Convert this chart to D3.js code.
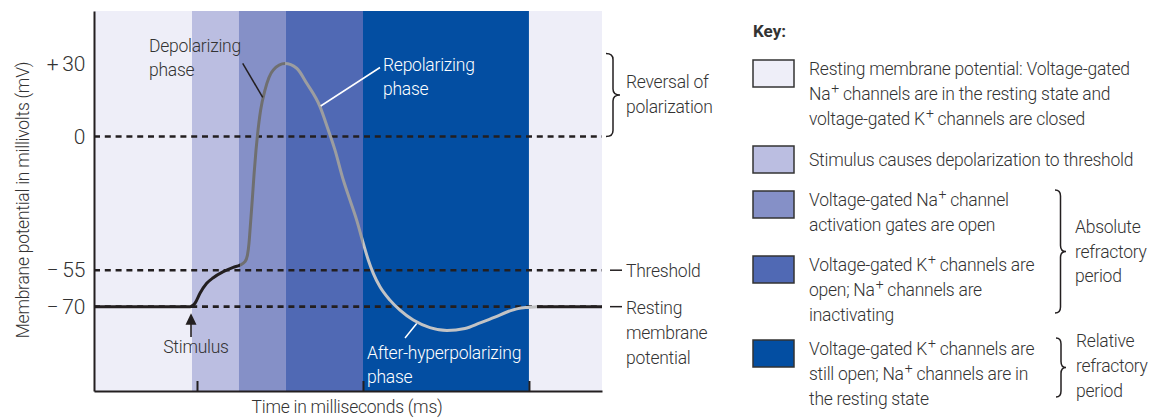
<!DOCTYPE html>
<html><head><meta charset="utf-8">
<script src="https://cdn.jsdelivr.net/npm/d3@7"></script>
<style>
html,body{margin:0;padding:0;background:#fff;}
svg{display:block;}
text{font-family:Roboto,"Liberation Sans",sans-serif;fill:#333;font-size:17.5px;letter-spacing:-0.25px;font-weight:300;}
</style></head><body>
<svg id="chart" width="1155" height="419"></svg>
<script>
// ---------- data ----------
const timeMs = [-1.241,-0.084,-0.024,0.036,0.117,0.196,0.317,0.437,0.518,0.578,0.608,0.627,0.639,0.666,0.687,0.711,0.727,0.767,0.819,0.919,1.06,1.201,1.322,1.482,1.582,1.663,1.763,1.843,1.924,2.004,2.064,2.124,2.205,2.325,2.446,2.606,2.807,3.012,3.229,3.41,3.59,3.735,3.867,3.988,4.1,4.88];
const potentialMv = [-70,-70,-68.6,-64.5,-60.4,-58.1,-55.6,-53.8,-52.9,-51.5,-48.8,-43.8,-38.5,-26.1,-15.8,-5.6,0,10.9,19.1,27.4,30,28.1,21.9,12.3,2.7,-5.6,-17.9,-26.1,-34.4,-44.0,-50.8,-56.3,-61.8,-67.3,-71.4,-75.5,-78.6,-79.8,-79.0,-76.7,-74.3,-72.2,-70.8,-70.3,-70,-70];
const phaseStart = [-1.241,-0.06,0.506,1.072,2.0,4.0];
const phaseEnd   = [-0.06,0.506,1.072,2.0,4.0,4.88];
const phaseKey   = [0,1,2,3,4,0];
const yTickValues = [30,0,-55,-70];
const yTickLabels = ["+\u200930","0","\u2212\u200955","\u2212\u200970"];
const xTickValues = [0,2,4];
const refLevels = [0,-55,-70];
const keyTitle = "Key:";
const keyLines = [
  ["Resting membrane potential: Voltage-gated","Na^+ channels are in the resting state and","voltage-gated K^+ channels are closed"],
  ["Stimulus causes depolarization to threshold"],
  ["Voltage-gated Na^+ channel","activation gates are open"],
  ["Voltage-gated K^+ channels are","open; Na^+ channels are","inactivating"],
  ["Voltage-gated K^+ channels are","still open; Na^+ channels are in","the resting state"]
];
const braceLabels = [["Absolute","refractory","period"],["Relative","refractory","period"]];
const sideLabels = {reversal:["Reversal of","polarization"], threshold:["Threshold"], resting:["Resting","membrane","potential"]};
const phaseLabels = {dep:["Depolarizing","phase"], rep:["Repolarizing","phase"], after:["After-hyperpolarizing","phase"], stim:"Stimulus"};
const yTitle = "Membrane potential in millivolts (mV)";
const xTitle = "Time in milliseconds (ms)";

// ---------- styles ----------
const keyColors = ["#eeeef8","#bbbee1","#8590c7","#5069b4","#034ea2"];
const ink = "#231f20";

const svg = d3.select("#chart");
const x = d3.scaleLinear().domain([-1.241,4.88]).range([94,602]);
const y = d3.scaleLinear().domain([-104.7,51.65]).range([391,11]);

// bands
svg.append("g").selectAll("rect").data(phaseStart).join("rect")
  .attr("x",(d)=>x(d)).attr("y",y(51.65))
  .attr("width",(d,i)=>x(phaseEnd[i])-x(d)).attr("height",y(-104.7)-y(51.65))
  .attr("fill",(d,i)=>keyColors[phaseKey[i]]);

// reference dashed lines
svg.append("g").selectAll("line").data(refLevels).join("line")
  .attr("x1",x(-1.241)).attr("x2",x(4.88)).attr("y1",d=>y(d)).attr("y2",d=>y(d))
  .attr("stroke",ink).attr("stroke-width",2.6).attr("stroke-dasharray","6,4.8");

// curve with colour gradient along x
const defs = svg.append("defs");
const grad = defs.append("linearGradient").attr("id","lg").attr("gradientUnits","userSpaceOnUse")
  .attr("x1",x(-1.241)).attr("x2",x(4.88)).attr("y1",0).attr("y2",0);
const frac = t => (x(t)-x(-1.241))/(x(4.88)-x(-1.241));
const stops = [[0,ink],[frac(0.52),ink],[frac(0.52),"#6f6f70"],[frac(1.06),"#6f6f70"],[frac(1.06),"#9c9da0"],[frac(2.0),"#9c9da0"],[frac(2.0),"#c2c3c5"],[frac(4.1),"#c2c3c5"],[frac(4.1),ink],[1,ink]];
grad.selectAll("stop").data(stops).join("stop").attr("offset",d=>d[0]).attr("stop-color",d=>d[1]);
const line = d3.line().x((d,i)=>x(timeMs[i])).y(d=>y(d)).curve(d3.curveMonotoneX);
svg.append("path").attr("d",line(potentialMv)).attr("fill","none")
  .attr("stroke","url(#lg)").attr("stroke-width",3).attr("stroke-linejoin","round");

// axes
const gx = svg.append("g").attr("transform",`translate(0,${y(-104.7)})`)
  .call(d3.axisBottom(x).tickValues(xTickValues).tickSize(-10).tickSizeOuter(0).tickFormat(""));
const gy = svg.append("g").attr("transform",`translate(${x(-1.241)},0)`)
  .call(d3.axisLeft(y).tickValues(yTickValues).tickSize(0).tickSizeOuter(0).tickPadding(9)
    .tickFormat((d,i)=>yTickLabels[i]));
[gx,gy].forEach(g=>{
  g.select(".domain").attr("stroke",ink).attr("stroke-width",2);
  g.selectAll(".tick line").attr("stroke",ink).attr("stroke-width",2);
  g.selectAll("text").style("font-family","Roboto").style("font-size","21px").style("fill","#333")
    .style("letter-spacing","-0.3px").style("font-weight","300");
});

// helper for multi-line text with superscripts
function addLines(g, lines, x0, y0, lh, opts={}) {
  lines.forEach((ln,k)=>{
    const t = g.append("text").attr("x",x0).attr("y",y0+k*lh);
    if (opts.fill) t.style("fill",opts.fill);
    if (opts.anchor) t.attr("text-anchor",opts.anchor);
    const parts = ln.split("^+");
    parts.forEach((p,j)=>{
      if (j>0) {
        t.append("tspan").attr("dy",-7).attr("dx",1).style("font-size","14px").text("+");
        t.append("tspan").attr("dy",7).text(p);
      } else t.append("tspan").text(p);
    });
  });
}

const ann = svg.append("g");
// phase labels
addLines(ann, phaseLabels.dep, 149, 52, 24);
addLines(ann, phaseLabels.rep, 383, 71, 24, {fill:"#fff"});
addLines(ann, phaseLabels.after, 367, 358.5, 24.5, {fill:"#fff"});
ann.append("text").attr("x",196).attr("y",353).attr("text-anchor","middle").text(phaseLabels.stim);
// leaders
ann.append("line").attr("x1",242.7).attr("y1",63.3).attr("x2",262.7).attr("y2",97.3).attr("stroke",ink).attr("stroke-width",1.5);
ann.append("line").attr("x1",380).attr("y1",67.5).attr("x2",320.7).attr("y2",106).attr("stroke","#fff").attr("stroke-width",1.5);
ann.append("line").attr("x1",405).attr("y1",338).attr("x2",416.7).attr("y2",323.5).attr("stroke","#fff").attr("stroke-width",1.5);
// stimulus arrow
ann.append("path").attr("d",`M${x(-0.072)},${y(-72.7)} l-5.5,11.5 h11 z`).attr("fill",ink);
ann.append("line").attr("x1",x(-0.072)).attr("x2",x(-0.072)).attr("y1",324).attr("y2",337).attr("stroke",ink).attr("stroke-width",1.6);

// braces
function brace(g, x0, y0, y1, xt) {
  const xs = (x0+xt)/2, ym = (y0+y1)/2, r = 6;
  g.append("path").attr("d",
    `M${x0},${y0} Q${xs},${y0} ${xs},${y0+r} L${xs},${ym-r} Q${xs},${ym} ${xt},${ym} Q${xs},${ym} ${xs},${ym+r} L${xs},${y1-r} Q${xs},${y1} ${x0},${y1}`)
    .attr("fill","none").attr("stroke",ink).attr("stroke-width",1.5);
}
brace(ann, 606, y(30)-10, y(0), 620);
addLines(ann, sideLabels.reversal, 626, 88, 25);
ann.append("line").attr("x1",610).attr("x2",622).attr("y1",y(-55)).attr("y2",y(-55)).attr("stroke",ink).attr("stroke-width",1.5);
addLines(ann, sideLabels.threshold, 626, 277, 25);
ann.append("line").attr("x1",610).attr("x2",622).attr("y1",y(-70)).attr("y2",y(-70)).attr("stroke",ink).attr("stroke-width",1.5);
addLines(ann, sideLabels.resting, 626, 313.5, 25);

// axis titles
svg.append("text").attr("transform","translate(28.5,200) rotate(-90)").attr("text-anchor","middle").text(yTitle);
svg.append("text").attr("x",347).attr("y",413).attr("text-anchor","middle").text(xTitle);

// key
const key = svg.append("g");
key.append("text").attr("x",753).attr("y",37).style("font-weight","bold").style("font-size","17px").style("letter-spacing","0px").text(keyTitle);
const keyTop = [60,146,191,256,340];
const keyTextOffset = [15,19.5,15,15,15];
keyLines.forEach((lines,i)=>{
  key.append("rect").attr("x",753).attr("y",keyTop[i]).attr("width",41).attr("height",27)
    .attr("fill",keyColors[i]).attr("stroke","#333").attr("stroke-width",1.5);
  addLines(key, lines, 809, keyTop[i]+keyTextOffset[i], 24.8);
});
brace(key, 1055, 190, 313, 1066);
addLines(key, braceLabels[0], 1075, 233, 24.5);
brace(key, 1056, 338, 397, 1066);
addLines(key, braceLabels[1], 1076, 347, 25);
</script>
</body></html>
